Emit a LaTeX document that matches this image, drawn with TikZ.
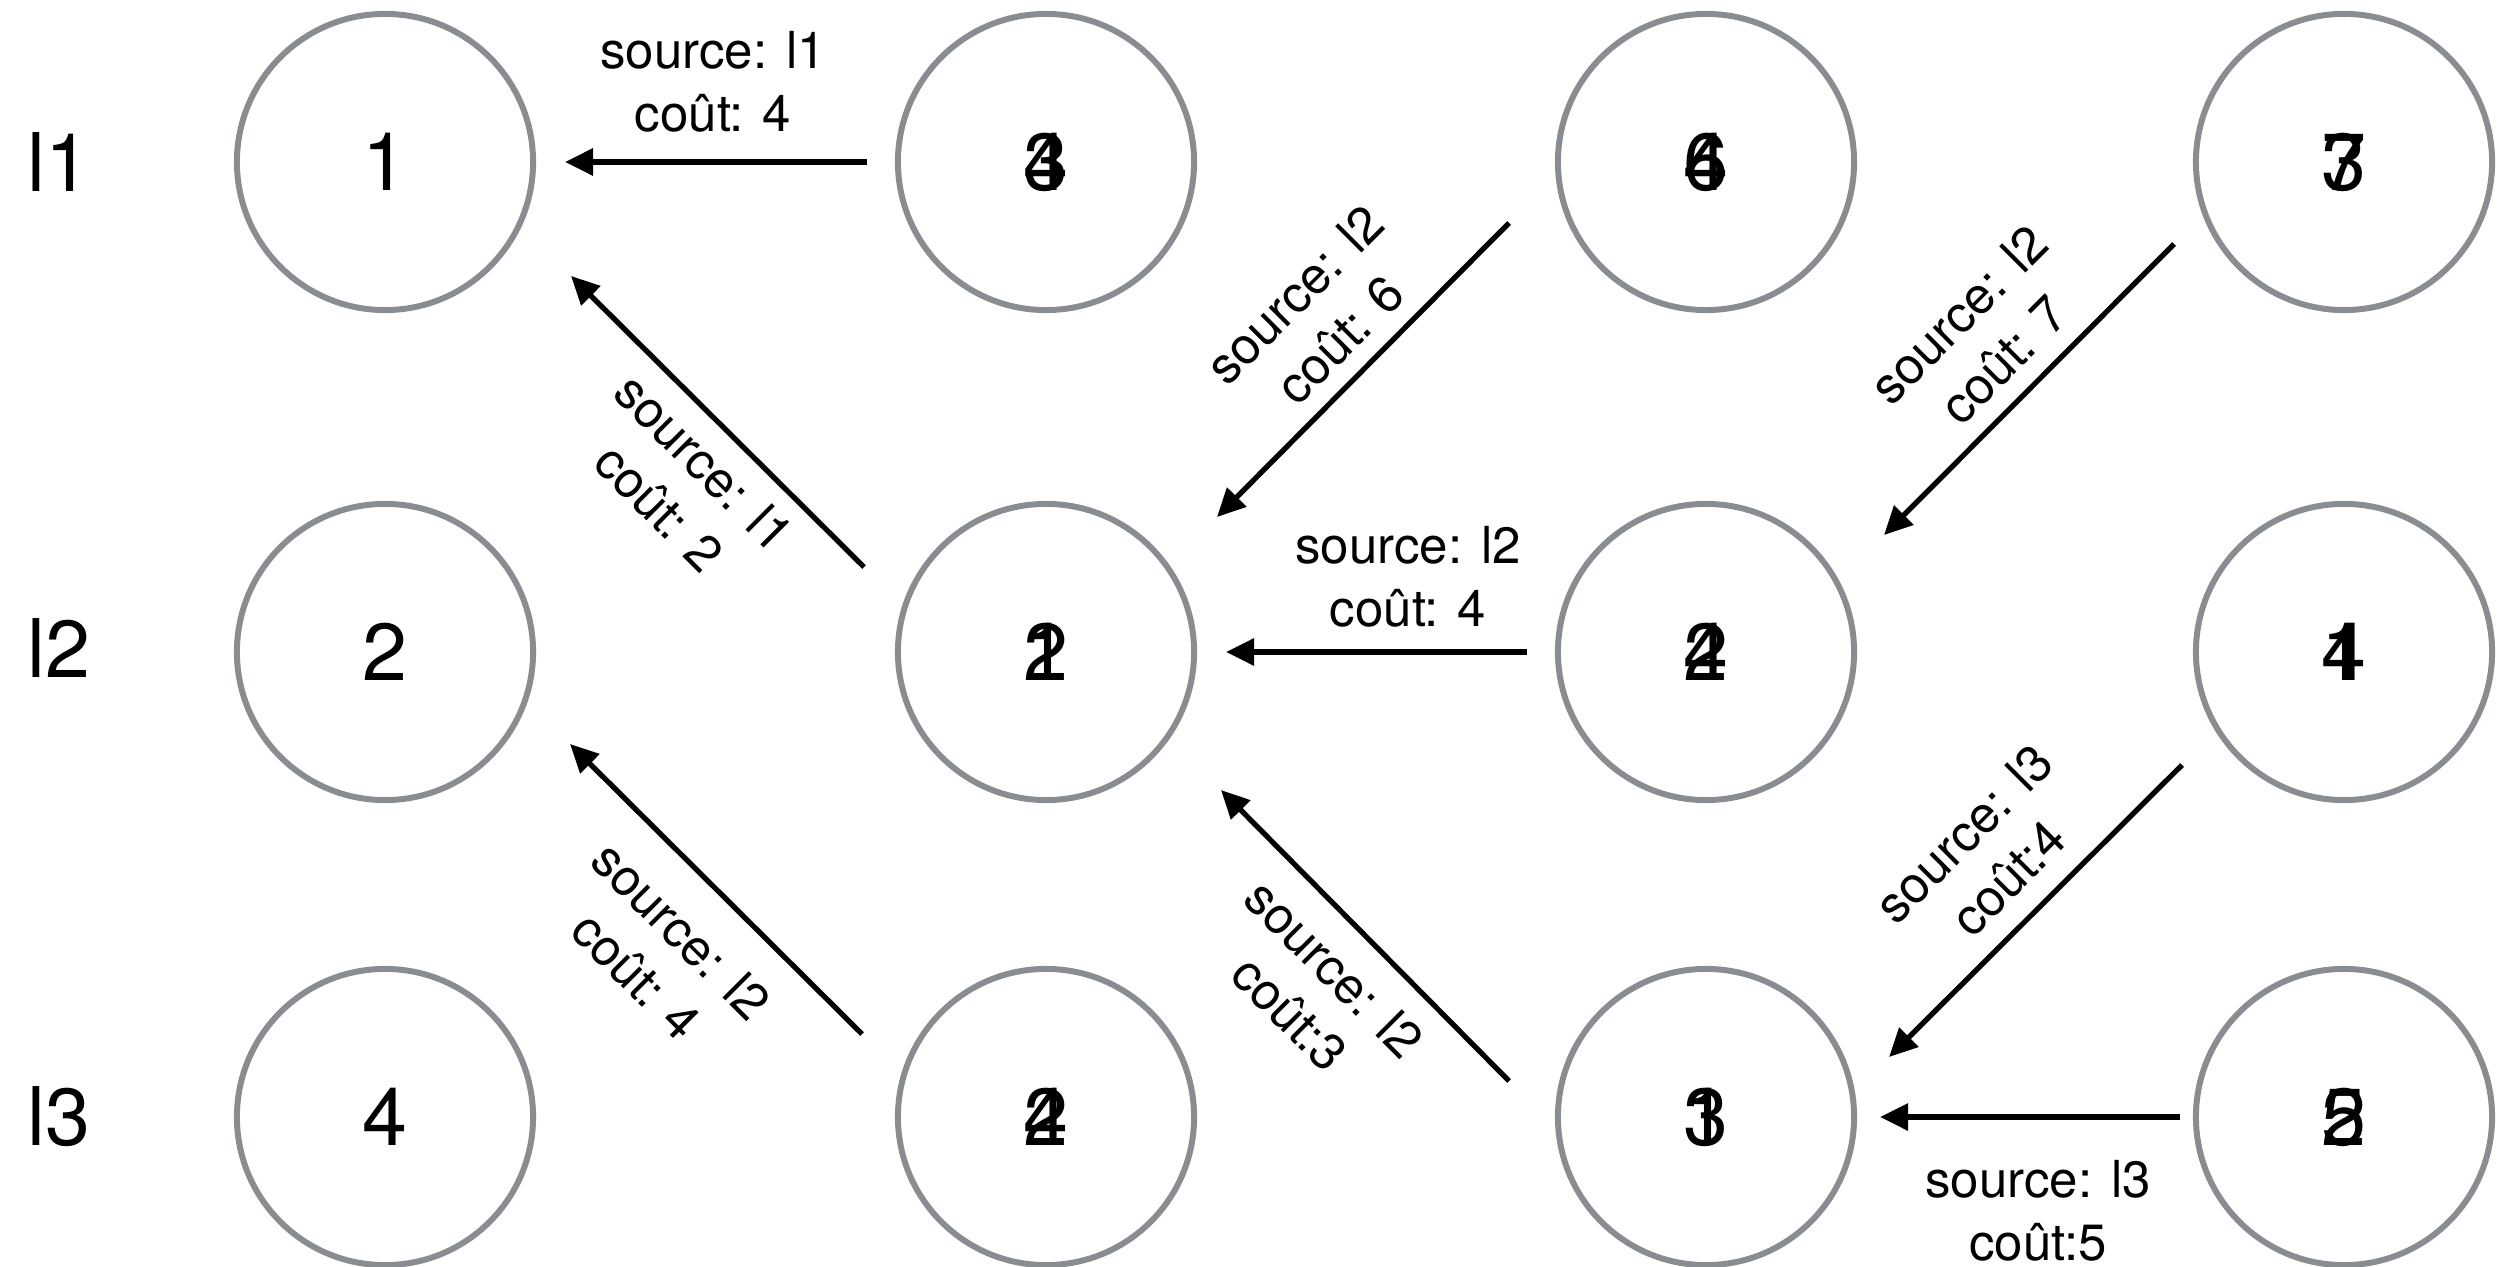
\documentclass[tikz,border=0pt]{standalone}
\usepackage{fontspec}
\setmainfont{TeX Gyre Heros}
\usetikzlibrary{arrows.meta}

\definecolor{ringgray}{RGB}{137,140,145}
\newcommand{\twodigits}[2]{\makebox[0pt]{#1}\makebox[0pt]{#2}}

\begin{document}
\begin{tikzpicture}[x=0.01cm, y=-0.01cm,
    ring/.style={circle, draw=ringgray, line width=1.7pt, minimum size=2.96cm,
      inner sep=0pt, font=\fontsize{23}{27}\selectfont},
    rowlabel/.style={anchor=west, inner sep=0pt, font=\fontsize{23}{27}\selectfont},
    hop/.style={-{Triangle[length=8pt,width=7.5pt]}, line width=1.5pt},
    cost/.style={align=center, inner sep=0pt, font=\fontsize{14.5}{18}\selectfont}]
  \useasboundingbox (0,0) rectangle (2503,1267);

  % row labels
  \node[rowlabel] (l1) at (27,162) {l1};
  \node[rowlabel] (l2) at (27,648) {l2};
  \node[rowlabel] (l3) at (27,1117) {l3};

  % circles
  \node[ring] (n11) at (385,162)   {1};
  \node[ring] (n12) at (1046,162)  {\twodigits{4}{3}};
  \node[ring] (n13) at (1706,162)  {\twodigits{6}{4}};
  \node[ring] (n14) at (2344,162)  {\twodigits{7}{3}};
  \node[ring] (n21) at (385,652)   {2};
  \node[ring] (n22) at (1046,652)  {\twodigits{2}{1}};
  \node[ring] (n23) at (1706,652)  {\twodigits{2}{4}};
  \node[ring] (n24) at (2344,652)  {\twodigits{1}{4}};
  \node[ring] (n31) at (385,1117)  {4};
  \node[ring] (n32) at (1046,1117) {\twodigits{2}{4}};
  \node[ring] (n33) at (1706,1117) {\twodigits{3}{1}};
  \node[ring] (n34) at (2344,1117) {\twodigits{5}{2}};

  % arrow ends
  \coordinate (a1s) at (867,162);   \coordinate (a1e) at (565,162);
  \coordinate (a2s) at (864,567);   \coordinate (a2e) at (571,276);
  \coordinate (a3s) at (1509,223);  \coordinate (a3e) at (1217,517);
  \coordinate (a4s) at (1527,652);  \coordinate (a4e) at (1226,652);
  \coordinate (a5s) at (2174,244);  \coordinate (a5e) at (1884,535);
  \coordinate (a6s) at (862,1034);  \coordinate (a6e) at (570,744);
  \coordinate (a7s) at (1509,1081); \coordinate (a7e) at (1221,790);
  \coordinate (a8s) at (2182,765);  \coordinate (a8e) at (1889,1057);
  \coordinate (a9s) at (2180,1117); \coordinate (a9e) at (1880,1117);

  \foreach \k in {1,...,9}
    \draw[hop] (a\k s) -- (a\k e);

  % costs
  \node[cost] (t1) at (713,82) {source: l1\\coût: 4};
  \node[cost, rotate=-45] (t2) at (682,485) {source: l1\\coût: 2};
  \node[cost, rotate=45] (t3) at (1317,317) {source: l2\\coût: 6};
  \node[cost] (t4) at (1408,577) {source: l2\\coût: 4};
  \node[cost, rotate=45] (t5) at (1981,337) {source: l2\\coût: 7};
  \node[cost, rotate=-45] (t6) at (659,953) {source: l2\\coût: 4};
  \node[cost, rotate=-45] (t7) at (1312,991) {source: l2\\coût:3};
  \node[cost, rotate=45] (t8) at (1986,856) {source: l3\\coût:4};
  \node[cost] (t9) at (2038,1211) {source: l3\\coût:5};
\end{tikzpicture}
\end{document}
